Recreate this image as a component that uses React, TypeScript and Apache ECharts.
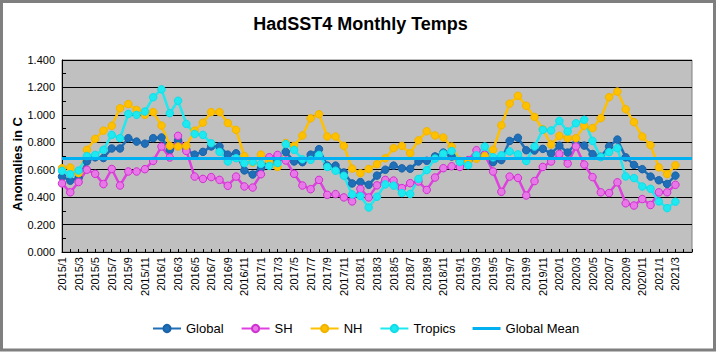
import React, { useEffect, useRef } from "react";
import * as echarts from "echarts";

const TITLE = "HadSST4 Monthly Temps";
const Y_NAME = "Anomalies in C";

const CATEGORIES = [
  "2015/1", "2015/2", "2015/3", "2015/4", "2015/5", "2015/6", "2015/7", "2015/8", "2015/9", "2015/10", "2015/11", "2015/12",
  "2016/1", "2016/2", "2016/3", "2016/4", "2016/5", "2016/6", "2016/7", "2016/8", "2016/9", "2016/10", "2016/11", "2016/12",
  "2017/1", "2017/2", "2017/3", "2017/4", "2017/5", "2017/6", "2017/7", "2017/8", "2017/9", "2017/10", "2017/11", "2017/12",
  "2018/1", "2018/2", "2018/3", "2018/4", "2018/5", "2018/6", "2018/7", "2018/8", "2018/9", "2018/10", "2018/11", "2018/12",
  "2019/1", "2019/2", "2019/3", "2019/4", "2019/5", "2019/6", "2019/7", "2019/8", "2019/9", "2019/10", "2019/11", "2019/12",
  "2020/1", "2020/2", "2020/3", "2020/4", "2020/5", "2020/6", "2020/7", "2020/8", "2020/9", "2020/10", "2020/11", "2020/12",
  "2021/1", "2021/2", "2021/3", "", ""
];

const GLOBAL = [
  0.55, 0.52, 0.54, 0.66, 0.69, 0.685, 0.755, 0.755, 0.83, 0.805,
  0.79, 0.83, 0.835, 0.745, 0.815, 0.745, 0.71, 0.73, 0.77, 0.77,
  0.71, 0.72, 0.595, 0.565, 0.61, 0.645, 0.675, 0.73, 0.66, 0.655,
  0.71, 0.75, 0.63, 0.63, 0.58, 0.50, 0.51, 0.49, 0.557, 0.60,
  0.63, 0.61, 0.607, 0.66, 0.665, 0.697, 0.725, 0.696, 0.66, 0.665,
  0.70, 0.708, 0.655, 0.67, 0.81, 0.833, 0.742, 0.74, 0.752, 0.718,
  0.775, 0.725, 0.79, 0.776, 0.714, 0.694, 0.77, 0.82, 0.69, 0.635,
  0.604, 0.55, 0.523, 0.496, 0.557
];

const SH = [
  0.50, 0.435, 0.51, 0.60, 0.57, 0.495, 0.605, 0.485, 0.587, 0.587,
  0.604, 0.664, 0.769, 0.689, 0.847, 0.737, 0.55, 0.533, 0.546, 0.526,
  0.483, 0.55, 0.478, 0.47, 0.567, 0.691, 0.708, 0.667, 0.57, 0.485,
  0.458, 0.526, 0.417, 0.422, 0.398, 0.369, 0.46, 0.398, 0.486, 0.526,
  0.521, 0.466, 0.502, 0.514, 0.453, 0.543, 0.611, 0.625, 0.62, 0.67,
  0.742, 0.71, 0.587, 0.439, 0.55, 0.54, 0.412, 0.517, 0.62, 0.66,
  0.715, 0.645, 0.77, 0.638, 0.546, 0.435, 0.43, 0.508, 0.355, 0.339,
  0.386, 0.343, 0.435, 0.435, 0.49
];

const NH = [
  0.611, 0.616, 0.575, 0.745, 0.825, 0.885, 0.92, 1.048, 1.079, 1.036,
  1.0, 1.02, 0.922, 0.774, 0.769, 0.774, 0.885, 0.943, 1.02, 1.02,
  0.94, 0.89, 0.70, 0.652, 0.71, 0.66, 0.62, 0.795, 0.774, 0.849,
  0.975, 1.005, 0.842, 0.842, 0.774, 0.608, 0.574, 0.605, 0.64, 0.683,
  0.757, 0.774, 0.72, 0.814, 0.88, 0.85, 0.835, 0.769, 0.665, 0.66,
  0.68, 0.70, 0.745, 0.924, 1.082, 1.139, 1.066, 0.985, 0.895, 0.784,
  0.847, 0.83, 0.83, 0.92, 0.903, 0.976, 1.129, 1.17, 1.041, 0.947,
  0.842, 0.779, 0.617, 0.568, 0.633
];

const TROPICS = [
  0.592, 0.567, 0.594, 0.70, 0.708, 0.745, 0.854, 0.83, 1.007, 1.0,
  1.024, 1.128, 1.186, 1.012, 1.103, 0.934, 0.861, 0.854, 0.793, 0.73,
  0.66, 0.684, 0.648, 0.658, 0.642, 0.628, 0.648, 0.787, 0.745, 0.676,
  0.672, 0.708, 0.62, 0.593, 0.556, 0.42, 0.408, 0.324, 0.403, 0.493,
  0.484, 0.43, 0.423, 0.533, 0.597, 0.681, 0.717, 0.736, 0.656, 0.633,
  0.705, 0.769, 0.69, 0.705, 0.733, 0.712, 0.663, 0.769, 0.891, 0.886,
  0.956, 0.879, 0.939, 0.964, 0.81, 0.692, 0.728, 0.757, 0.551, 0.539,
  0.478, 0.461, 0.369, 0.32, 0.367
];

const GLOBAL_MEAN = 0.68;

const Y_MIN = 0;
const Y_MAX = 1.4;
const Y_INTERVAL = 0.2;

const FONT = "'Liberation Sans', Arial, sans-serif";

export default function App() {
  const ref = useRef<HTMLDivElement>(null);

  useEffect(() => {
    if (!ref.current) return;
    const chart = echarts.init(ref.current, undefined, { renderer: "svg" });

    const lineSeries = (name: string, data: number[], color: string, fill: string, border: string) => ({
      name,
      type: "line",
      data,
      symbol: "circle",
      symbolSize: 7.5,
      showSymbol: true,
      showAllSymbol: true,
      lineStyle: { color, width: 2.5 },
      itemStyle: { color: fill, borderColor: border, borderWidth: 1 },
      z: 3,
    });

    chart.setOption({
      animation: false,
      textStyle: { fontFamily: FONT },
      title: {
        text: TITLE,
        left: "center",
        top: 10,
        textStyle: { fontFamily: FONT, fontSize: 18, fontWeight: "bold", color: "#000" },
      },
      graphic: [
        {
          type: "rect",
          shape: { x: 1.5, y: 1.5, width: 713, height: 348.5 },
          style: { fill: "none", stroke: "#7f7f7f", lineWidth: 3 },
          silent: true,
        },
        {
          type: "text",
          x: 17,
          y: 164,
          rotation: Math.PI / 2,
          style: {
            text: Y_NAME,
            fill: "#000",
            font: `bold 13px ${FONT}`,
            align: "center",
            verticalAlign: "middle",
          },
          silent: true,
        },
      ],
      legend: {
        left: 147,
        top: 317,
        itemWidth: 28,
        itemHeight: 9,
        itemGap: 17,
        textStyle: { fontFamily: FONT, fontSize: 13, color: "#000" },
        data: [
          "Global",
          "SH",
          "NH",
          "Tropics",
          { name: "Global Mean", icon: "path://M0,0L28,0L28,3L0,3Z", itemStyle: { color: "#00b0f0" } },
        ],
      },
      grid: {
        left: 62,
        top: 60,
        right: 29,
        bottom: 100,
        show: true,
        backgroundColor: "#c0c0c0",
        borderColor: "#808080",
        borderWidth: 1,
      },
      xAxis: {
        type: "category",
        data: CATEGORIES,
        boundaryGap: false,
        axisLine: { lineStyle: { color: "#000", width: 1 } },
        axisTick: { show: true, inside: true, length: 3, interval: 0, lineStyle: { color: "#000" } },
        axisLabel: {
          rotate: 90,
          interval: 1,
          fontSize: 11,
          color: "#000",
          margin: 5,
          fontFamily: FONT,
        },
        splitLine: { show: false },
      },
      yAxis: {
        type: "value",
        min: Y_MIN,
        max: Y_MAX,
        interval: Y_INTERVAL,
        axisLine: { show: true, lineStyle: { color: "#000", width: 1 } },
        axisTick: { show: true, inside: true, length: 4, lineStyle: { color: "#000" } },
        minorTick: { show: true, splitNumber: 2, length: 4, lineStyle: { color: "#000" } },
        axisLabel: {
          fontSize: 11,
          color: "#000",
          margin: 7,
          fontFamily: FONT,
          formatter: (v: number) => v.toFixed(3),
        },
        splitLine: { show: true, lineStyle: { color: "#000", width: 1 } },
      },
      series: [
        lineSeries("Global", GLOBAL, "#1f6fb8", "#1f6fb8", "#1a63a8"),
        lineSeries("SH", SH, "#e040e0", "#e878e8", "#d030d0"),
        lineSeries("NH", NH, "#ffc000", "#ffc000", "#f0b400"),
        lineSeries("Tropics", TROPICS, "#1ee8f0", "#1ee8f0", "#10dde8"),
        {
          name: "Global Mean",
          type: "line",
          data: [],
          symbol: "none",
          lineStyle: { color: "#00b0f0", width: 3 },
          itemStyle: { color: "#00b0f0" },
          z: 5,
          markLine: {
            silent: true,
            symbol: "none",
            label: { show: false },
            lineStyle: { color: "#00b0f0", width: 3, type: "solid" },
            data: [{ yAxis: GLOBAL_MEAN }],
            z: 5,
          },
        },
      ],
    });

    return () => chart.dispose();
  }, []);

  return (
    <div
      ref={ref}
      style={{ position: "fixed", left: 0, top: 0, width: 721, height: 352, background: "#fff" }}
    />
  );
}
